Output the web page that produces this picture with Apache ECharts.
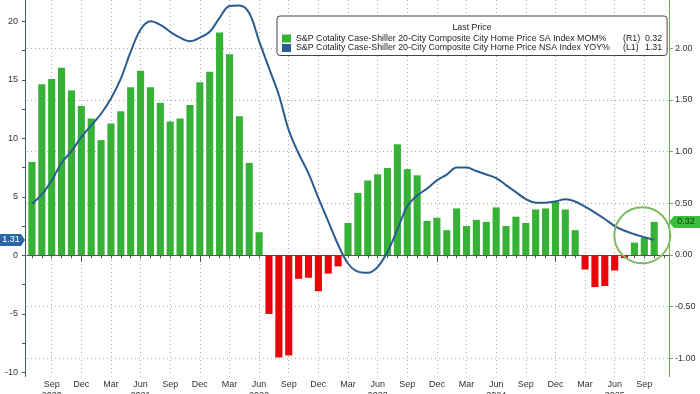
<!DOCTYPE html>
<html><head><meta charset="utf-8">
<script src="https://cdn.jsdelivr.net/npm/echarts@6/dist/echarts.min.js"></script>
<style>html,body{margin:0;padding:0;background:#fff}#c{width:700px;height:394px}</style>
</head><body><div id="c"></div>
<script>
// ---- data ----
const months = [
 '2020-07','2020-08','2020-09','2020-10','2020-11','2020-12',
 '2021-01','2021-02','2021-03','2021-04','2021-05','2021-06','2021-07','2021-08','2021-09','2021-10','2021-11','2021-12',
 '2022-01','2022-02','2022-03','2022-04','2022-05','2022-06','2022-07','2022-08','2022-09','2022-10','2022-11','2022-12',
 '2023-01','2023-02','2023-03','2023-04','2023-05','2023-06','2023-07','2023-08','2023-09','2023-10','2023-11','2023-12',
 '2024-01','2024-02','2024-03','2024-04','2024-05','2024-06','2024-07','2024-08','2024-09','2024-10','2024-11','2024-12',
 '2025-01','2025-02','2025-03','2025-04','2025-05','2025-06','2025-07','2025-08','2025-09','2025-10','2025-11'
];
// SA MoM % (right axis, bars)
const momValues = [
 0.90,1.65,1.70,1.81,1.59,1.44,
 1.32,1.11,1.27,1.39,1.62,1.78,1.62,1.47,1.29,1.32,1.45,1.67,
 1.77,2.15,1.94,1.34,0.89,0.22,-0.57,-0.99,-0.97,-0.23,-0.22,-0.35,
 -0.18,-0.11,0.31,0.60,0.72,0.78,0.84,1.07,0.83,0.77,0.33,0.36,
 0.24,0.45,0.28,0.34,0.32,0.46,0.28,0.37,0.31,0.44,0.45,0.52,
 0.44,0.24,-0.14,-0.31,-0.30,-0.15,-0.03,0.12,0.17,0.32
];
// NSA YoY % (left axis, line)
const yoyValues = [
 4.4,5.2,6.4,7.9,8.9,10.1,
 11.1,12.1,13.4,15.1,17.4,19.3,20.0,19.7,19.1,18.6,18.3,18.6,
 19.1,20.3,21.3,21.35,20.7,18.3,16.0,13.7,10.7,8.7,7.0,4.9,
 2.9,0.9,-0.7,-1.4,-1.5,-1.0,0.3,2.2,4.2,5.1,5.7,6.4,
 6.9,7.5,7.5,7.2,6.9,6.6,6.0,5.4,4.8,4.5,4.5,4.6,
 4.8,4.6,4.15,3.65,3.1,2.5,2.1,1.8,1.55,1.31
];
const barName = 'S&P Cotality Case-Shiller 20-City Composite City Home Price SA Index MOM%';
const lineName = 'S&P Cotality Case-Shiller 20-City Composite City Home Price NSA Index YOY%';
const barTag = '(R1)', lineTag = '(L1)';
const barLast = '0.32', lineLast = '1.31';
const leftLabels = [-10,-5,0,5,10,15,20];
const leftTicks = [-10,-7.5,-5,-2.5,0,2.5,5,7.5,10,12.5,15,17.5,20];
const rightLabels = [-1,-0.5,0,0.5,1,1.5,2];
const monthNames = {'01':'Jan','02':'Feb','03':'Mar','04':'Apr','05':'May','06':'Jun','07':'Jul','08':'Aug','09':'Sep','10':'Oct','11':'Nov','12':'Dec'};
const labelMonths = ['03','06','09','12'];
const yearLabelAt = ['2020-09','2021-06','2022-06','2023-06','2024-06','2025-06'];

// ---- styles ----
const FONT = 'Liberation Sans, Arial, sans-serif';
const GREEN = '#36b336', RED = '#e6060c', BLUE = '#2b5c8f';
const isQuarter = (i, v) => labelMonths.indexOf(String(v).slice(5)) >= 0;
const LF = 8.8;

const chart = echarts.init(document.getElementById('c'), null, {renderer: 'canvas'});
chart.setOption({
  animation: false,
  backgroundColor: '#fff',
  grid: {left: 27, right: 31, top: 0, bottom: 17.5, containLabel: false, outerBoundsMode: 'none'},
  legend: {
    orient: 'vertical', left: 277, top: 16,
    padding: [18, 5, 3, 5], itemGap: 0.5, itemWidth: 9, itemHeight: 8,
    backgroundColor: '#fff', borderColor: '#444', borderWidth: 1, borderRadius: 3,
    icon: 'rect', selectedMode: false,
    data: [
      {name: barName, itemStyle: {color: GREEN}},
      {name: lineName, itemStyle: {color: BLUE}}
    ],
    formatter: function (name) {
      const tag = name === barName ? barTag : lineTag;
      const last = name === barName ? barLast : lineLast;
      return '{n|' + name + '}{r|' + tag + '}{v|' + last + '}';
    },
    textStyle: {
      fontFamily: FONT, fontSize: LF, color: '#222',
      rich: {
        n: {fontFamily: FONT, fontSize: LF, color: '#222', width: 327, lineHeight: 11},
        r: {fontFamily: FONT, fontSize: LF, color: '#222', width: 22, lineHeight: 11},
        v: {fontFamily: FONT, fontSize: LF, color: '#222', lineHeight: 11}
      }
    }
  },
  xAxis: [{
    type: 'category', data: months, position: 'bottom',
    axisLine: {show: true, lineStyle: {color: '#555'}},
    axisTick: {show: true, interval: 0, alignWithLabel: true, length: 3, lineStyle: {color: '#555'}},
    axisLabel: {
      interval: isQuarter, margin: 3, fontFamily: FONT, fontSize: 9, color: '#333', lineHeight: 11,
      formatter: function (v) {
        const m = monthNames[v.slice(5)];
        return yearLabelAt.indexOf(v) >= 0 ? m + '\n' + v.slice(0, 4) : m;
      }
    },
    splitLine: {show: true, interval: isQuarter, alignWithLabel: true, lineStyle: {color: '#aaa', type: [1, 3]}}
  }, {
    type: 'category', data: months, position: 'bottom', offset: 12,
    axisLine: {show: false}, axisLabel: {show: false}, splitLine: {show: false},
    axisTick: {show: true, alignWithLabel: true, interval: (i, v) => String(v).slice(5) === '12', length: 7, lineStyle: {color: '#555'}}
  }],
  yAxis: [{
    type: 'value', position: 'left', min: -10.36, max: 21.82, offset: 2,
    axisLine: {show: true, lineStyle: {color: '#3d5a7a'}},
    axisTick: {show: true, customValues: leftTicks, length: 3, lineStyle: {color: '#3d5a7a'}},
    axisLabel: {customValues: leftLabels, margin: 7, fontFamily: FONT, fontSize: 9, color: '#333'},
    splitLine: {show: false}
  }, {
    type: 'value', position: 'right', min: -1.174, max: 2.464,
    axisLine: {show: true, lineStyle: {color: '#6ab04c'}},
    axisTick: {show: true, customValues: rightLabels, length: 4, lineStyle: {color: '#6ab04c'}},
    axisLabel: {customValues: rightLabels, margin: 6, fontFamily: FONT, fontSize: 9, color: '#333',
      formatter: v => v.toFixed(2)},
    splitLine: {show: true, lineStyle: {color: '#aaa', type: [1, 3]}}
  }],
  series: [{
    type: 'bar', name: barName, xAxisIndex: 0, yAxisIndex: 1, data: momValues,
    barCategoryGap: '28%', z: 2,
    itemStyle: {color: p => (p.value >= 0 ? GREEN : RED)}
  }, {
    type: 'line', name: lineName, xAxisIndex: 0, yAxisIndex: 0, data: yoyValues,
    smooth: 0.35, symbol: 'none', z: 3,
    lineStyle: {color: BLUE, width: 2}, itemStyle: {color: BLUE}
  }]
});

// annotations positioned from data
const yL = chart.convertToPixel({yAxisIndex: 0}, yoyValues[yoyValues.length - 1]);
const yR = chart.convertToPixel({yAxisIndex: 1}, momValues[momValues.length - 1]);
const cpt = chart.convertToPixel({xAxisIndex: 0, yAxisIndex: 1}, [months[62], 0.19]);
chart.setOption({
  graphic: [
    {type: 'text', z: 100, x: 472, y: 28, style: {text: 'Last Price', font: LF + 'px ' + FONT, fill: '#222', align: 'center', verticalAlign: 'middle'}},
    {type: 'polygon', z: 100, shape: {points: [[0, yL - 6], [21, yL - 6], [25, yL], [21, yL + 6], [0, yL + 6]]}, style: {fill: '#2a67a8'}},
    {type: 'text', z: 101, x: 11, y: yL, style: {text: lineLast, font: '9px ' + FONT, fill: '#fff', align: 'center', verticalAlign: 'middle'}},
    {type: 'polygon', z: 100, shape: {points: [[669, yR], [674, yR - 6], [700, yR - 6], [700, yR + 6], [674, yR + 6]]}, style: {fill: '#3bbd3b'}},
    {type: 'text', z: 101, x: 686, y: yR, style: {text: barLast, font: '9px ' + FONT, fill: '#0f3a10', align: 'center', verticalAlign: 'middle'}},
    {type: 'circle', z: 100, shape: {cx: cpt[0] - 2, cy: cpt[1], r: 28}, style: {fill: 'none', stroke: '#7dbb5f', lineWidth: 2}}
  ]
});
</script></body></html>
